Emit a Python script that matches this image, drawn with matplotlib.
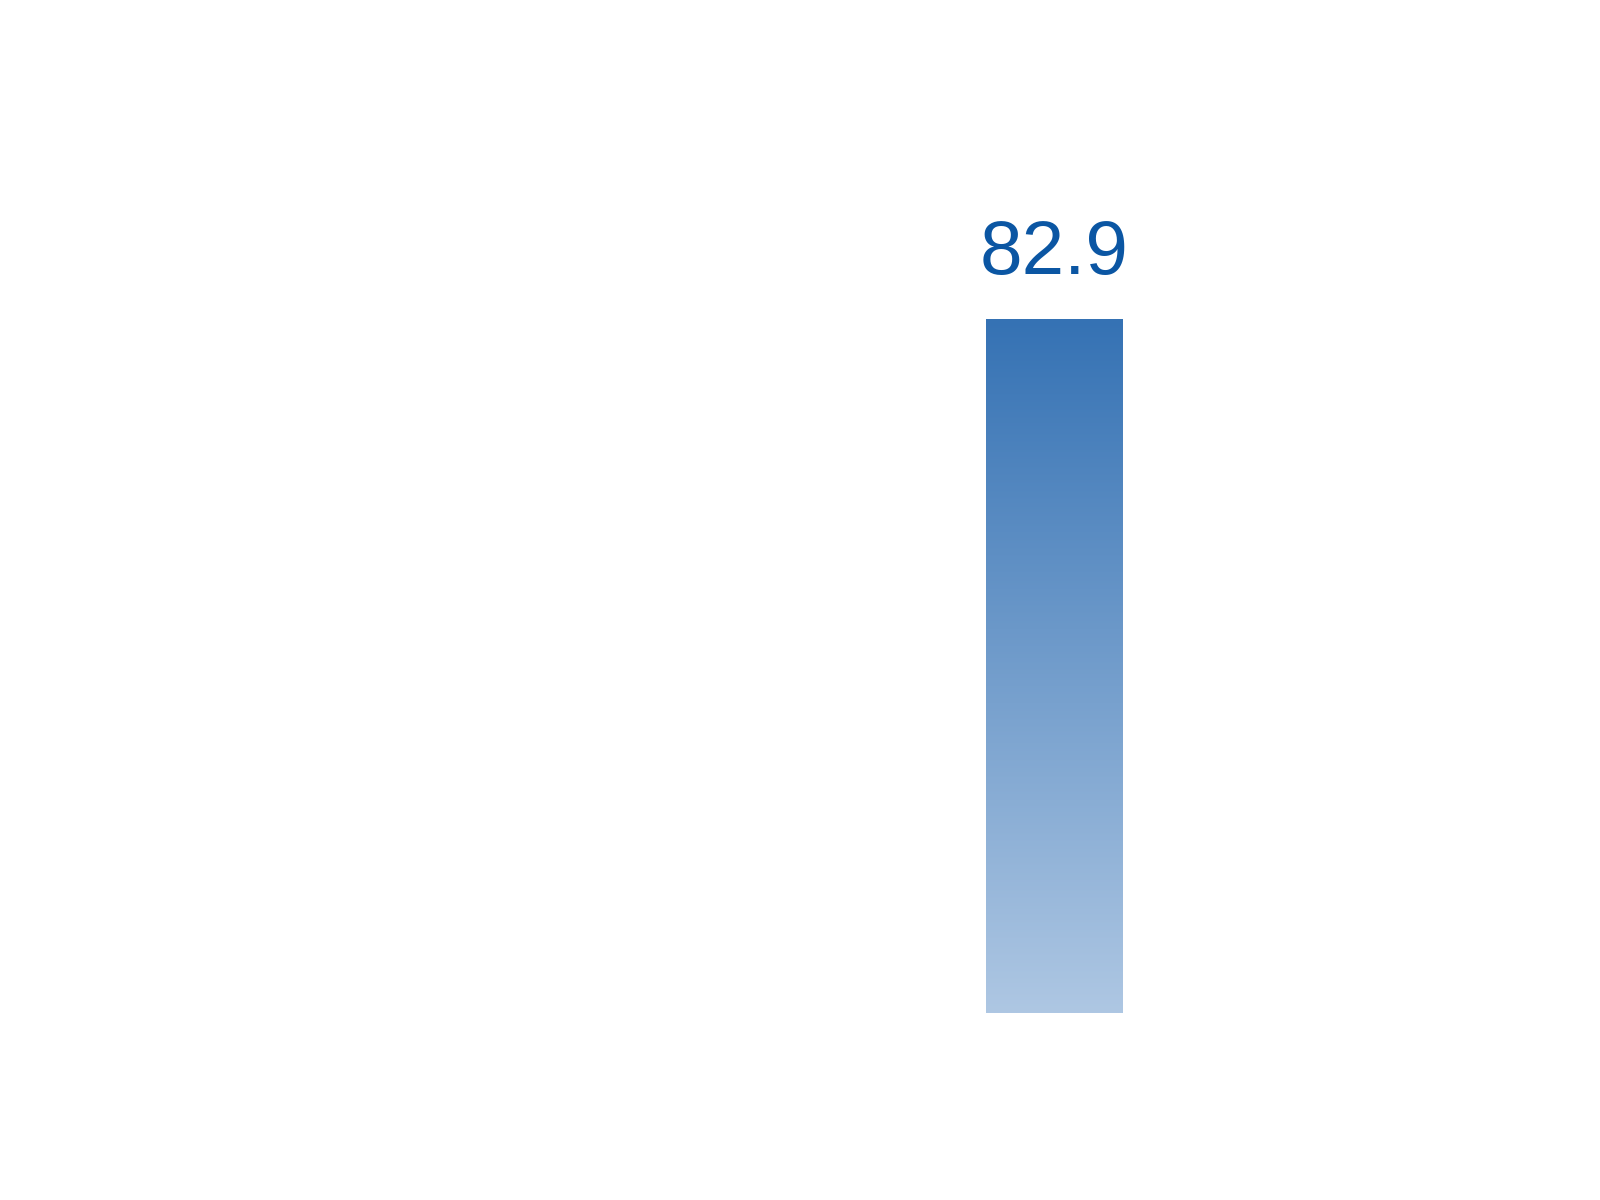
import numpy as np
import matplotlib
matplotlib.use('Agg')
import matplotlib.pyplot as plt
from matplotlib.colors import LinearSegmentedColormap

categories = ['A']
values = [82.9]
labels = ['82.9']

bar_width = 0.6
top_color = '#3572b4'
bottom_color = '#aec7e3'
text_color = '#0b56a3'

plt.rcParams['font.family'] = ['Liberation Sans', 'DejaVu Sans']

fig = plt.figure(figsize=(16, 12), dpi=100)
ax = fig.add_axes([0, 0, 1, 1])
ax.set_axis_off()

cmap = LinearSegmentedColormap.from_list('grad', [bottom_color, top_color])
xs = np.arange(len(categories))
bars = ax.bar(xs, values, width=bar_width, color='none', edgecolor='none')

for bar, val, lab in zip(bars, values, labels):
    x0 = bar.get_x()
    grad = np.linspace(0, 1, 256).reshape(-1, 1)
    im = ax.imshow(grad, extent=[x0, x0 + bar_width, 0, val], origin='lower',
                   cmap=cmap, aspect='auto', zorder=2)
    im.set_clip_path(bar)
    ax.annotate(lab, (bar.get_x() + bar_width / 2, val), xytext=(0, 32),
                textcoords='offset points', ha='center', va='baseline',
                fontsize=55, color=text_color)

ax.set_xlim(-4.62, 2.39)
ax.set_ylim(-22.4, 121.0)

fig.savefig('out.png', dpi=100)
